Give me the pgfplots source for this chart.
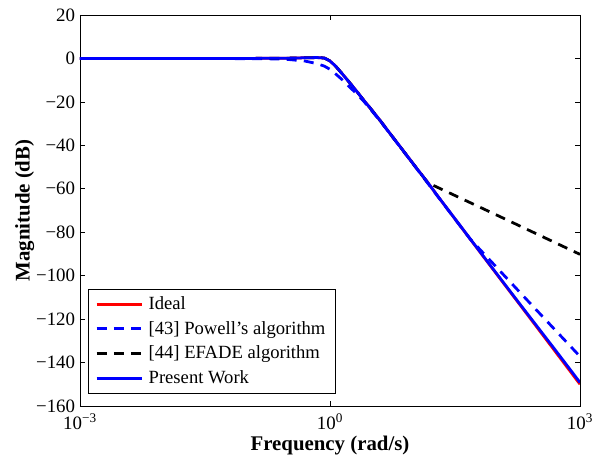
\documentclass[border=0pt]{standalone}
\usepackage{fontspec}
\setmainfont{Liberation Serif}
\usepackage{pgfplots}
\pgfplotsset{compat=1.18}

\begin{document}
\begin{tikzpicture}
\begin{axis}[
  scale only axis,
  width=360pt, height=281.5pt,
  xmode=log,
  xmin=1e-3, xmax=1e3,
  ymin=-160, ymax=20,
  xtick={1e-3,1,1e3},
  xticklabels={{10\textsuperscript{−3}},{10\textsuperscript{0}},{10\textsuperscript{3}}},
  xminorticks=false,
  ytick={-160,-140,-120,-100,-80,-60,-40,-20,0,20},
  yticklabels={−160,−140,−120,−100,−80,−60,−40,−20,0,20},
  tick align=inside,
  major tick length=3.5pt,
  axis line style={line width=0.6pt},
  every tick/.style={black, line width=0.5pt},
  tick label style={font=\fontsize{13.6}{15}\selectfont},
  xticklabel style={yshift=-2pt},
  label style={font=\bfseries\fontsize{15}{17}\selectfont},
  xlabel={Frequency (rad/s)},
  ylabel={Magnitude (dB)},
  xlabel style={yshift=2.5pt},
  ylabel style={yshift=-5.5pt},
  legend cell align=left,
  legend style={
    at={(axis description cs:0.016,0.031)}, anchor=south west,
    draw=black, line width=0.6pt, fill=white,
    font=\fontsize{13.4}{15.5}\selectfont,
    row sep=3pt, inner xsep=5pt, inner ysep=3.5pt,
    /tikz/every odd column/.append style={column sep=2pt},
  },
  legend image code/.code={\draw[#1] (0pt,0pt) -- (32.4pt,0pt);},
]

% Ideal response
\addplot[red, line width=2pt] coordinates {
  (0.001,0) (0.01,0) (0.1,0) (0.3,0.1) (0.5,0.3) (0.7,0.4) (0.85,0.2)
  (0.92,-0.4) (1.0,-1.2) (1.15,-3.3) (1.3,-5.6) (1.5,-8.4) (1.75,-11.5)
  (2,-14.2) (2.5,-18.9) (3,-22.6) (4,-28.6) (5,-33.5) (7,-40.8)
  (10,-48.6) (15,-57.3) (20,-63.8) (50,-84.0) (100,-99.3) (200,-114.5)
  (500,-134.7) (1000,-150)
};
\addlegendentry{Ideal}

% Powell's algorithm
\addplot[blue, line width=2pt, dash pattern=on 7.2pt off 5.2pt] coordinates {
  (0.001,0) (0.01,0) (0.1,-0.1) (0.2,-0.2) (0.3,-0.4) (0.5,-1.2) (0.7,-2.4)
  (0.85,-3.5) (1.0,-5.0) (1.2,-7.5) (1.5,-10.8) (1.75,-13.5) (2,-15.5)
  (2.5,-19.4) (3,-23.0) (4,-28.8) (5,-33.6) (7,-40.9) (10,-48.7)
  (20,-63.9) (48,-83.1) (100,-96.2) (200,-108.6) (500,-124.9) (1000,-137.2)
};
\addlegendentry{{[43]} Powell’s algorithm}

% EFADE algorithm
\addplot[black, line width=2pt, dash pattern=on 7.2pt off 5.2pt] coordinates {
  (0.001,0) (0.01,0) (0.1,0) (0.3,0.1) (0.5,0.3) (0.7,0.4) (0.85,0.2)
  (0.92,-0.4) (1.0,-1.2) (1.15,-3.3) (1.3,-5.6) (1.5,-8.4) (1.75,-11.5)
  (2,-14.2) (2.5,-18.9) (3,-22.6) (4,-28.6) (5,-33.5) (7,-40.8)
  (10,-48.6) (15,-57.3) (100,-72.1) (1000,-90.2)
};
\addlegendentry{{[44]} EFADE algorithm}

% Present work
\addplot[blue, line width=2pt] coordinates {
  (0.001,0) (0.01,0) (0.1,0) (0.3,0.1) (0.5,0.3) (0.7,0.4) (0.85,0.2)
  (0.92,-0.4) (1.0,-1.2) (1.15,-3.3) (1.3,-5.6) (1.5,-8.4) (1.75,-11.5)
  (2,-14.2) (2.5,-18.9) (3,-22.6) (4,-28.6) (5,-33.5) (7,-40.8)
  (10,-48.6) (15,-57.3) (20,-63.8) (50,-83.9) (100,-99.1) (200,-114.2)
  (500,-134.0) (1000,-149.2)
};
\addlegendentry{Present Work}

\end{axis}
% page margins around the plotting box
\path (current axis.south west) +(-57.6pt,-37.4pt)
      (current axis.north east) +(14.4pt,10.8pt);
\end{tikzpicture}
\end{document}
